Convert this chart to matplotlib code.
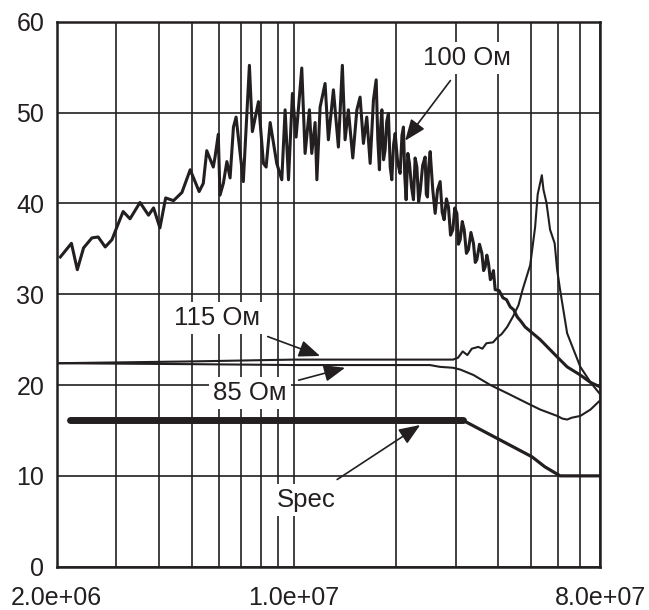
import numpy as np
import matplotlib.pyplot as plt
from matplotlib.ticker import NullFormatter, FixedLocator

plt.rcParams['font.family'] = ['Liberation Sans', 'DejaVu Sans']

INK = '#231f20'

# частоты в МГц, уровни в дБ
f_100 = [2.05, 2.21, 2.30, 2.40, 2.54, 2.65, 2.78, 2.91, 3.01, 3.14, 3.29, 3.52,
         3.73, 3.86, 4.03, 4.19, 4.42, 4.68, 4.95, 5.26, 5.41, 5.54, 5.79, 5.86,
         5.99, 6.06, 6.20, 6.35, 6.49, 6.64, 6.76, 7.10, 7.40, 7.55, 7.87, 8.14,
         8.29, 8.52, 8.91, 9.22, 9.43, 9.65, 9.91, 10.16, 10.56, 10.80, 11.12,
         11.30, 11.56, 11.70, 11.96, 12.37, 12.65, 13.09, 13.54, 13.91, 14.17,
         14.49, 14.93, 15.35, 15.69, 16.05, 16.42, 16.80, 17.18, 17.50, 17.70,
         17.89, 18.05, 18.19, 18.40, 18.60, 18.80, 19.02, 19.25, 19.46, 19.70,
         19.91, 20.25, 20.59, 20.85, 21.06, 21.25, 21.45, 21.70, 21.94, 22.25,
         22.54, 22.80, 23.07, 23.35, 23.59, 24.00, 24.40, 24.60, 24.79, 25.00,
         25.25, 25.70, 26.12, 26.55, 27.02, 27.40, 27.76, 28.20, 28.59, 29.00,
         29.45, 29.85, 30.27, 30.60, 30.96, 31.40, 31.81, 32.30, 32.75, 33.30,
         33.88, 34.30, 34.67, 35.30, 35.87, 36.30, 36.68, 37.10, 37.52, 38.00,
         38.39, 38.80, 39.26, 40.30, 41.40, 42.40, 43.50, 44.50, 45.60, 46.80,
         48.10, 53.30, 59.80, 64.00, 70.00, 74.90, 80.00]
db_100 = [34.1, 35.6, 32.7, 35.1, 36.2, 36.3, 35.2, 36.0, 37.4, 39.1, 38.3, 40.1,
          38.7, 39.5, 37.3, 40.6, 40.3, 41.2, 43.7, 41.3, 42.2, 45.8, 44.0, 45.1,
          47.6, 40.9, 42.2, 44.6, 42.8, 48.4, 49.5, 42.4, 55.2, 47.9, 51.2, 44.4,
          44.0, 48.9, 44.4, 42.6, 50.3, 42.6, 52.1, 47.3, 54.9, 45.5, 50.3,
          45.5, 48.9, 42.6, 50.6, 53.2, 47.0, 52.5, 46.2, 55.2, 47.0,
          50.3, 45.0, 50.3, 51.7, 46.6, 49.5, 44.4, 51.4, 53.6, 47.0,
          43.7, 48.5, 50.3, 44.8, 45.9, 49.0, 49.9, 44.0, 42.6, 46.5,
          47.7, 44.5, 43.3, 47.5, 48.4, 43.0, 40.4, 45.5, 44.4, 41.8,
          40.4, 45.0, 44.0, 40.2, 41.3, 44.2, 45.1, 41.0, 40.7, 44.0,
          45.7, 41.5, 38.9, 41.5, 42.4, 39.0, 38.2, 40.5, 39.6, 36.5,
          37.1, 39.5, 38.9, 35.5, 36.0, 38.0, 37.1, 34.5, 34.9, 36.8,
          35.6, 33.5, 33.8, 35.5, 34.5, 32.6, 33.0, 34.3, 33.4, 31.6,
          31.9, 32.6, 30.5, 30.4, 29.6, 29.4, 28.6, 28.3, 27.5, 27.0,
          26.4, 25.0, 23.1, 22.0, 21.1, 20.3, 19.8]

f_115 = [2.0, 5.0, 10.0, 20.0, 29.5, 30.5, 31.5, 32.5, 33.5, 35.0, 36.0, 37.0,
         38.7, 40.0, 41.0, 42.6, 44.4, 46.0, 47.3, 49.8, 51.5, 52.4, 53.9, 54.5,
         55.6, 57.0, 58.8, 59.8, 61.0, 64.0, 67.0, 70.0, 75.0, 80.0]
db_115 = [22.4, 22.6, 22.8, 22.8, 22.8, 23.0, 23.7, 23.3, 24.0, 24.2, 24.0, 24.6,
          24.7, 25.3, 25.6, 26.4, 27.6, 28.8, 30.5, 33.2, 37.4, 41.0, 43.1, 41.5,
          40.1, 37.1, 35.6, 32.7, 30.5, 25.7, 23.8, 22.0, 20.3, 19.0]

f_85 = [2.0, 5.0, 10.0, 20.0, 25.2, 27.0, 29.5, 31.0, 33.9, 38.0, 42.6, 48.8,
        53.3, 59.8, 62.0, 64.0, 66.0, 70.0, 75.0, 80.0]
db_85 = [22.4, 22.3, 22.2, 22.2, 22.2, 22.0, 21.9, 21.7, 21.1, 20.0, 19.1, 18.0,
         17.3, 16.6, 16.3, 16.2, 16.4, 16.6, 17.3, 18.3]

f_spec_flat = [2.19, 31.6]
db_spec_flat = [16.1, 16.1]
f_spec_roll = [31.6, 50.4, 55.0, 61.0, 80.0]
db_spec_roll = [16.1, 12.1, 11.0, 10.0, 10.0]

fig = plt.figure(figsize=(6.49, 6.10), dpi=100)
ax = fig.add_axes([0.0874, 0.071, 0.8371, 0.8934])

ax.plot(np.array(f_100) * 1e6, db_100, color=INK, lw=2.2)
ax.plot(np.array(f_115) * 1e6, db_115, color=INK, lw=1.5)
ax.plot(np.array(f_85) * 1e6, db_85, color=INK, lw=1.5)
ax.plot(np.array(f_spec_flat) * 1e6, db_spec_flat, color=INK, lw=5.0,
        solid_capstyle='round')
ax.plot(np.array(f_spec_roll) * 1e6, db_spec_roll, color=INK, lw=2.3)

ax.set_xscale('log')
ax.set_xlim(2e6, 8e7)
ax.set_ylim(0, 60)
ax.xaxis.set_major_locator(FixedLocator([2e6, 1e7, 8e7]))
ax.xaxis.set_minor_locator(FixedLocator([3e6, 4e6, 5e6, 6e6, 7e6, 8e6, 9e6,
                                         2e7, 3e7, 4e7, 5e7, 6e7, 7e7]))
ax.xaxis.set_minor_formatter(NullFormatter())
ax.set_xticklabels(['2.0e+06', '1.0e+07', '8.0e+07'])
ax.set_yticks(range(0, 61, 10))
ax.tick_params(which='both', length=0, labelsize=18, colors=INK)
ax.tick_params(axis='x', pad=14)
ax.tick_params(axis='y', pad=9)
ax.grid(which='both', color=INK, lw=1.2)
ax.set_axisbelow(True)
for s in ax.spines.values():
    s.set_linewidth(1.8)
    s.set_color(INK)

box = dict(boxstyle='square,pad=0.15', fc='white', ec='none')
arrow = dict(arrowstyle='-|>,head_length=0.7,head_width=0.28', color=INK,
             lw=1.2, shrinkA=6, shrinkB=0)
notes = [('100 Ом', (21.3, 46.9), (32.5, 56.0)),
         ('115 Ом', (11.96, 23.2), (5.94, 27.4)),
         ('85 Ом', (14.17, 21.9), (7.43, 19.1)),
         ('Spec', (23.6, 15.6), (10.87, 7.35))]
for txt, tip, pos in notes:
    ax.annotate(txt, xy=(tip[0] * 1e6, tip[1]), xytext=(pos[0] * 1e6, pos[1]),
                ha='center', va='center', fontsize=18.5, color=INK,
                bbox=box, arrowprops=arrow)

fig.savefig('out.png', dpi=100)
